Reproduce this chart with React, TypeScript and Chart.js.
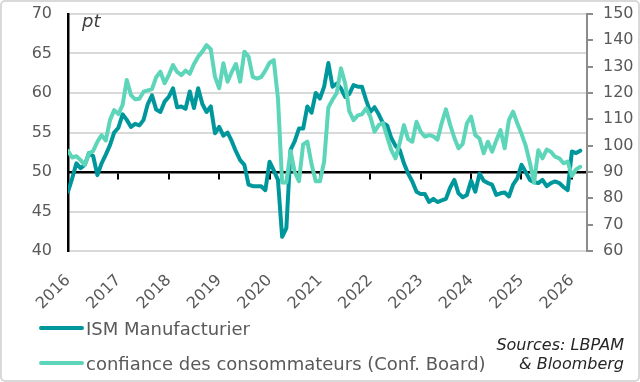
import React, { useEffect, useRef } from "react";
import { Chart, registerables } from "chart.js";

Chart.register(...registerables);

// Tick labels (one per January)
const YEAR_LABELS = ["2016", "2017", "2018", "2019", "2020", "2021", "2022", "2023", "2024", "2025", "2026"];
const LEFT_TICKS = [40, 45, 50, 55, 60, 65, 70];
const RIGHT_TICKS = [60, 70, 80, 90, 100, 110, 120, 130, 140, 150];

// Monthly series, Jan 2016 -> Mar 2026
const ISM_MANUF = [
  47.5, 49.2, 51.1, 50.5, 50.9, 52.4, 52.0, 49.6, 51.1, 52.2, 53.4, 55.0,
  55.6, 57.3, 56.6, 55.7, 56.1, 55.9, 56.6, 58.6, 59.7, 57.9, 57.6, 58.9,
  59.5, 60.6, 58.2, 58.3, 58.0, 60.2, 58.1, 60.6, 58.6, 57.6, 58.3, 54.9,
  55.7, 54.6, 55.0, 53.9, 52.6, 51.5, 50.9, 48.4, 48.2, 48.2, 48.2, 47.7,
  51.3, 50.2, 49.0, 41.8, 42.9, 52.8, 53.9, 55.5, 55.5, 58.3, 57.5, 60.0,
  59.3, 60.8, 63.8, 60.8, 61.2, 60.6, 59.5, 59.9, 61.0, 60.8, 60.8, 59.1,
  57.6, 58.2, 57.3, 56.2, 55.9, 54.3, 53.3, 52.8, 51.1, 49.8, 48.8, 47.5,
  47.2, 47.2, 46.2, 46.6, 46.2, 46.4, 46.6, 48.0, 49.0, 47.3, 46.8, 47.1,
  48.9, 47.5, 49.8, 48.9, 48.6, 48.4, 47.1, 47.3, 47.4, 46.9, 48.4, 49.2,
  50.9, 50.0, 49.0, 48.7, 48.6, 49.0, 48.2, 48.6, 48.8, 48.6, 48.1, 47.7,
  52.6, 52.4, 52.7,
];

const CONF_BOARD = [
  98.0, 95.5, 96.0, 94.5, 92.7, 97.1, 98.0, 101.5, 104.0, 102.0, 109.7, 113.5,
  112.0, 115.5, 124.9, 119.2, 117.6, 117.8, 120.5, 121.0, 121.5, 126.0, 128.1, 123.7,
  126.8, 130.6, 128.0, 126.8, 128.5, 127.3, 131.0, 133.8, 135.7, 138.2, 136.6, 126.2,
  121.8, 131.3, 124.3, 128.0, 131.0, 124.3, 135.7, 133.8, 126.1, 125.5, 126.0, 128.5,
  131.5, 132.5, 118.0, 86.0, 86.0, 98.0, 90.0, 86.5, 100.5, 101.5, 93.0, 86.5,
  86.5, 94.0, 114.5, 117.5, 120.0, 129.4, 123.7, 113.0, 109.7, 111.5, 111.9, 114.2,
  111.0, 105.3, 107.8, 108.6, 103.4, 98.3, 95.2, 101.0, 107.8, 102.5, 101.5, 109.1,
  105.3, 103.4, 104.0, 103.5, 102.3, 108.6, 113.8, 108.0, 103.0, 99.0, 100.7, 108.5,
  111.0, 104.0, 102.7, 97.1, 101.5, 97.7, 102.0, 105.9, 99.0, 109.7, 112.9, 108.5,
  104.5, 100.0, 93.5, 86.0, 98.3, 95.2, 98.5, 97.7, 95.8, 95.2, 93.3, 94.0,
  88.5, 91.0, 92.0,
];

const SERIES_NAMES = ["ISM Manufacturier", "confiance des consommateurs (Conf. Board)"];
const SOURCE_LINES = ["Sources: LBPAM", "& Bloomberg"];
const UNIT_LABEL = "pt";

const DARK = "#00979c";
const LIGHT = "#5dd5b9";
const FONT = "'DejaVu Sans', sans-serif";
const MONTHS_PER_YEAR = 12;
const X_MAX = 123.6;

export default function App() {
  const canvasRef = useRef<HTMLCanvasElement | null>(null);

  useEffect(() => {
    const canvas = canvasRef.current;
    if (!canvas) return;
    const yearFilter = (scale: any) => {
      scale.ticks = scale.ticks.filter(
        (t: any) => t.value % MONTHS_PER_YEAR === 0 && t.value / MONTHS_PER_YEAR < YEAR_LABELS.length
      );
    };
    const chart = new Chart(canvas, {
      type: "line",
      data: {
        datasets: [
          {
            label: SERIES_NAMES[0],
            data: ISM_MANUF.map((v, i) => ({ x: i, y: v })),
            borderColor: DARK,
            backgroundColor: DARK,
            borderWidth: 4,
            pointRadius: 0,
            borderJoinStyle: "round",
            borderCapStyle: "round",
            yAxisID: "y",
            xAxisID: "x",
            order: 2,
          },
          {
            label: SERIES_NAMES[1],
            data: CONF_BOARD.map((v, i) => ({ x: i, y: v })),
            borderColor: LIGHT,
            backgroundColor: LIGHT,
            borderWidth: 4,
            pointRadius: 0,
            borderJoinStyle: "round",
            borderCapStyle: "round",
            yAxisID: "y1",
            xAxisID: "x",
            order: 1,
          },
        ],
      },
      options: {
        responsive: false,
        animation: false,
        events: [],
        layout: { padding: { top: 14, left: 0, right: 0, bottom: 0 } },
        plugins: {
          legend: { display: false },
          tooltip: { enabled: false },
        },
        scales: {
          x: {
            type: "linear",
            min: 0,
            max: X_MAX,
            position: { y: 50 } as any,
            afterBuildTicks: yearFilter,
            ticks: { display: false, stepSize: MONTHS_PER_YEAR, includeBounds: false },
            grid: {
              drawOnChartArea: false,
              drawTicks: true,
              tickLength: 6,
              color: "#000000",
              lineWidth: 2,
            },
            border: { color: "#000000", width: 2.5 },
          },
          xl: {
            type: "linear",
            axis: "x",
            min: 0,
            max: X_MAX,
            position: "bottom",
            afterBuildTicks: yearFilter,
            afterFit: (s: any) => {
              s.height = 131;
            },
            grid: { display: false },
            border: { display: false },
            ticks: {
              stepSize: MONTHS_PER_YEAR,
              includeBounds: false,
              autoSkip: false,
              minRotation: 45,
              maxRotation: 45,
              padding: 12,
              color: "#595959",
              font: { family: FONT, size: 16 },
              callback: (v: any) => YEAR_LABELS[Math.round(Number(v) / MONTHS_PER_YEAR)] ?? "",
            },
          },
          y: {
            type: "linear",
            position: "left",
            min: LEFT_TICKS[0],
            max: LEFT_TICKS[LEFT_TICKS.length - 1],
            afterFit: (s: any) => {
              s.width = 68;
              s.paddingTop = 0;
              s.paddingBottom = 0;
            },
            ticks: {
              stepSize: 5,
              padding: 16,
              color: "#595959",
              font: { family: FONT, size: 16 },
            },
            grid: {
              drawTicks: false,
              lineWidth: 2,
              color: (ctx: any) => (ctx.tick && ctx.tick.value === 50 ? "rgba(0,0,0,0)" : "#d9d9d9"),
            },
            border: { color: "#000000", width: 2.5 },
          },
          y1: {
            type: "linear",
            position: "right",
            min: RIGHT_TICKS[0],
            max: RIGHT_TICKS[RIGHT_TICKS.length - 1],
            afterFit: (s: any) => {
              s.width = 53;
              s.paddingTop = 0;
              s.paddingBottom = 0;
            },
            ticks: {
              stepSize: 10,
              padding: 10,
              color: "#595959",
              font: { family: FONT, size: 16 },
            },
            grid: {
              drawOnChartArea: false,
              drawTicks: true,
              tickLength: 6,
              lineWidth: 2,
              color: "#8c8c8c",
            },
            border: { color: "#8c8c8c", width: 2 },
          },
        },
      },
    });
    return () => chart.destroy();
  }, []);

  const legendRow = (color: string, text: string, top: number) => (
    <div
      style={{
        position: "absolute",
        left: 39,
        top: top - 12,
        height: 24,
        display: "flex",
        alignItems: "center",
        whiteSpace: "nowrap",
      }}
    >
      <span style={{ display: "inline-block", width: 45, height: 4, background: color, borderRadius: 2 }} />
      <span style={{ marginLeft: 2, fontFamily: FONT, fontSize: 18, color: "#595959" }}>{text}</span>
    </div>
  );

  return (
    <div
      style={{
        position: "absolute",
        left: 0,
        top: 0,
        width: 640,
        height: 382,
        background: "#ffffff",
        overflow: "hidden",
      }}
    >
      <canvas ref={canvasRef} width={640} height={382} style={{ position: "absolute", left: 0, top: 0, width: 640, height: 382 }} />
      <div
        style={{
          position: "absolute",
          left: 82,
          top: 10,
          fontFamily: FONT,
          fontStyle: "italic",
          fontSize: 18,
          color: "#404040",
        }}
      >
        {UNIT_LABEL}
      </div>
      {legendRow(DARK, SERIES_NAMES[0], 328)}
      {legendRow(LIGHT, SERIES_NAMES[1], 363)}
      <div
        style={{
          position: "absolute",
          right: 16,
          top: 335,
          textAlign: "right",
          fontFamily: FONT,
          fontStyle: "italic",
          fontSize: 16,
          lineHeight: "19px",
          color: "#262626",
        }}
      >
        {SOURCE_LINES.map((s) => (
          <div key={s}>{s}</div>
        ))}
      </div>
      <div
        style={{
          position: "absolute",
          left: 0,
          top: 0,
          width: 640,
          height: 382,
          boxSizing: "border-box",
          border: "2px solid #d9d9d9",
          borderRadius: 5,
          pointerEvents: "none",
        }}
      />
    </div>
  );
}
